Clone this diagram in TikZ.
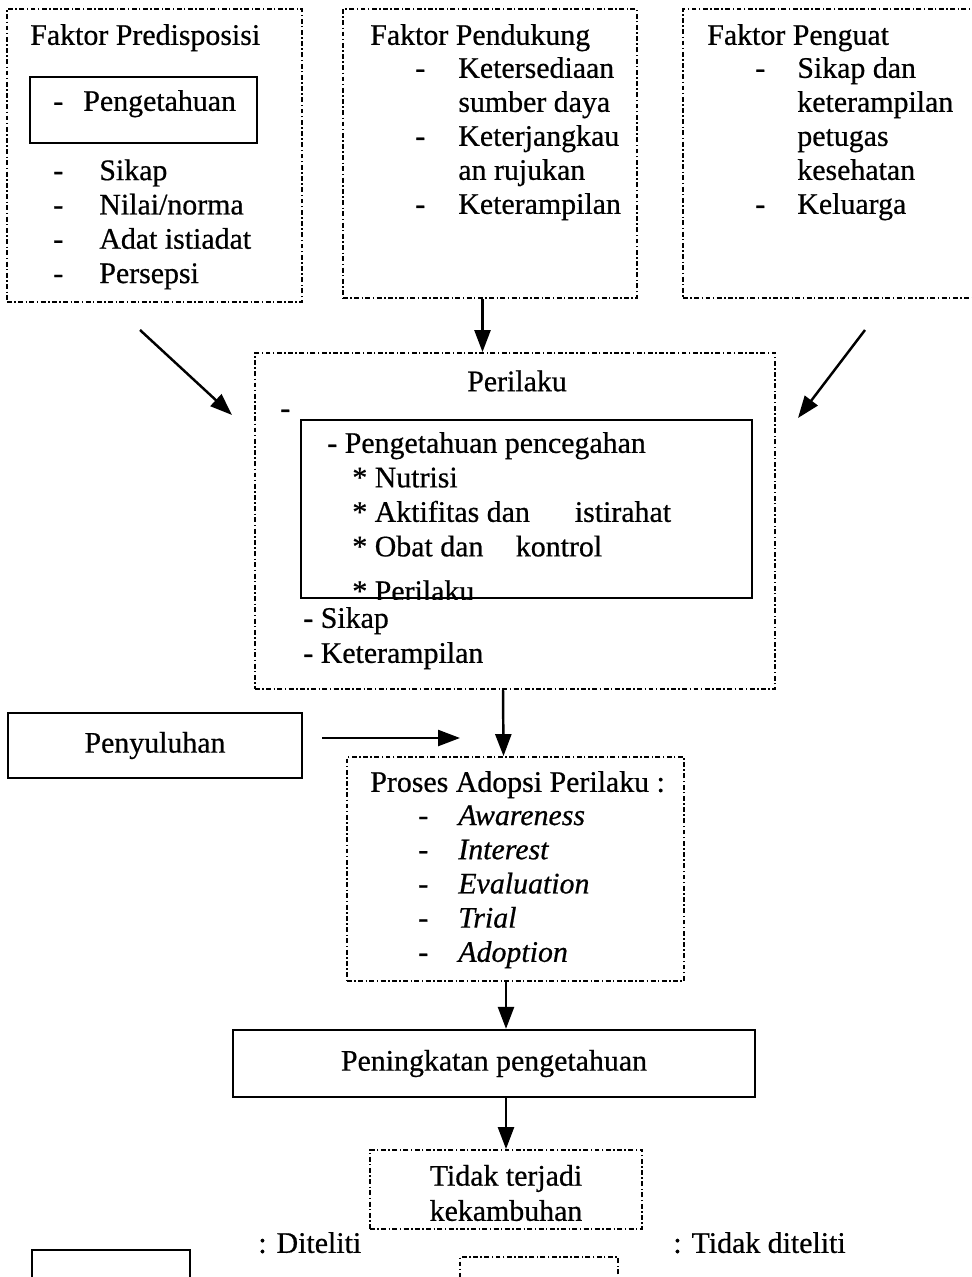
\documentclass[tikz,border=0pt]{standalone}
\usepackage{fontspec}
\setmainfont{Liberation Serif}[FakeBold=0.6]
\usetikzlibrary{arrows.meta,fit}
\begin{document}
\begin{tikzpicture}[x=0.02cm,y=-0.02cm,font=\fontsize{17}{20}\selectfont,
  txt/.style={anchor=west,inner sep=0pt,text height=1.5ex,text depth=.3ex},
  dashbox/.style={draw,line width=1.05pt,dash pattern=on 2.8pt off 1.4pt on 0.8pt off 1.4pt,inner sep=0pt},
  solidbox/.style={draw,line width=1.3pt,inner sep=0pt},
  arr/.style={line width=1.4pt,-{Triangle[length=0.44cm,width=0.32cm]}}]
\useasboundingbox (0,0) rectangle (971,1277);

% faktor
\node[dashbox,fit={(7,9) (302,302)}] (pred) {};
\node[dashbox,fit={(343,9) (637,298)}] (pend) {};
\node[dashbox,fit={(683,9) (995,298)}] (peng) {};

\node[txt] (pred title) at (30,40) {Faktor Predisposisi};
\node[solidbox,fit={(30,77) (257,143)}] (pred box) {};
\node[txt] (pred d0) at (53,106) {-};
\node[txt] (pred 0) at (83,106) {Pengetahuan};
\foreach \t [count=\i] in {Sikap, Nilai/norma, Adat istiadat, Persepsi} {
  \node[txt] (pred d\i) at (53,{141+34.3*\i}) {-};
  \node[txt] (pred \i) at (99,{141+34.3*\i}) {\t};
}

\node[txt] (pend title) at (370,40) {Faktor Pendukung};
\foreach \t/\d [count=\i] in {Ketersediaan/-, sumber daya/, Keterjangkau/-, an rujukan/, Keterampilan/-} {
  \node[txt] (pend d\i) at (415,{39+34*\i}) {\d};
  \node[txt] (pend \i) at (458,{39+34*\i}) {\t};
}

\node[txt] (peng title) at (707,40) {Faktor Penguat};
\foreach \t/\d [count=\i] in {Sikap dan/-, keterampilan/, petugas/, kesehatan/, Keluarga/-} {
  \node[txt] (peng d\i) at (755,{39+34*\i}) {\d};
  \node[txt] (peng \i) at (797,{39+34*\i}) {\t};
}

% perilaku
\node[dashbox,fit={(255,353) (775,689)}] (perilaku) {};
\node (perilaku title) at (517,381) {Perilaku};
\node[txt] (perilaku d0) at (280,413) {-};
\node[solidbox,fit={(301,420) (752,598)}] (inbox) {};
\node[txt] (pp) at (327,448) {- Pengetahuan pencegahan};
\foreach \t [count=\i] in {Nutrisi, Aktifitas dan\hspace{0.9cm}istirahat, Obat dan\hspace{0.65cm}kontrol} {
  \node[txt] (pp \i) at (352,{448+34.5*\i}) {* \t};
}
\begin{scope}
\clip (inbox.south west) rectangle (inbox.north east);
\node[anchor=base west,inner sep=0pt,text depth=0pt] (pp 4) at (352,601) {* Perilaku};
\end{scope}
\node[txt] (sikap) at (303,623) {- Sikap};
\node[txt] (ketr) at (303,658) {- Keterampilan};

% penyuluhan & proses
\node[solidbox,fit={(8,713) (302,778)}] (penyuluhan) {};
\node (penyuluhan txt) at (penyuluhan) {Penyuluhan};
\node[dashbox,fit={(347,757) (684,981)}] (proses) {};
\node[txt] (proses title) at (370,787) {Proses Adopsi Perilaku :};
\foreach \t [count=\i] in {Awareness, Interest, Evaluation, Trial, Adoption} {
  \node[txt] (proses d\i) at (418,{786+34.2*\i}) {-};
  \node[txt] (proses \i) at (458,{786+34.2*\i}) {\itshape\t};
}

\node[solidbox,fit={(233,1030) (755,1097)}] (tahu) {};
\node (tahu txt) at (tahu) {Peningkatan pengetahuan};
\node[dashbox,fit={(370,1150) (642,1229)}] (tidak) {};
\node[align=center] (tidak txt) at (506,1193) {Tidak terjadi\\kekambuhan};

% keterangan
\node[solidbox,fit={(32,1250) (190,1330)}] (leg1) {};
\node[txt] (leg1 txt) at (258,1248) {: Diteliti};
\node[dashbox,fit={(460,1257) (618,1330)}] (leg2) {};
\node[txt] (leg2 txt) at (673,1248) {: Tidak diteliti};

% panah
\coordinate (a1) at (140,330);
\coordinate (b1) at (232,415);
\coordinate (a2) at (865,330);
\coordinate (b2) at (798,418);
\coordinate (a3) at (322,738);
\coordinate (b3) at (460,738);
\draw[arr] (a1) -- (b1);
\draw[arr] (a2) -- (b2);
\draw[arr] ([xshift=-0.15cm]pend.south) -- ([xshift=-0.15cm]pend.south |- perilaku.north);
\draw[arr] (a3) -- (b3);
\draw[arr] ([xshift=-0.24cm]perilaku.south) -- ([xshift=-0.24cm]proses.north);
\draw[arr] (tahu.north -| tidak.north) ++(0,-48) -- (tahu.north -| tidak.north);
\draw[arr] (tahu.south -| tidak.north) -- (tidak.north);
\end{tikzpicture}
\end{document}
